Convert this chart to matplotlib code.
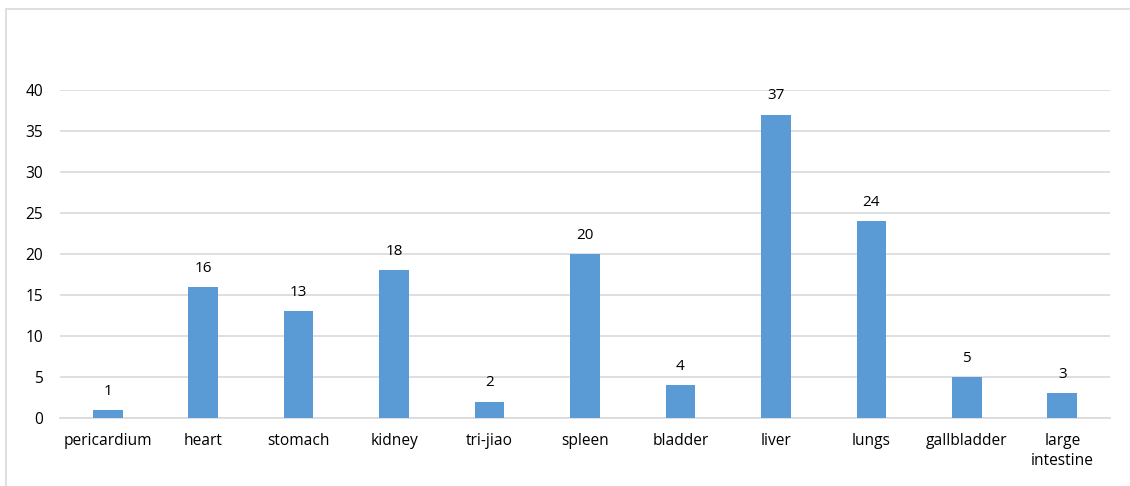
import matplotlib
matplotlib.use("Agg")
import matplotlib.pyplot as plt
from matplotlib.patches import Rectangle

categories = ["pericardium", "heart", "stomach", "kidney", "tri-jiao", "spleen",
              "bladder", "liver", "lungs", "gallbladder", "large\nintestine"]
counts = [1, 16, 13, 18, 2, 20, 4, 37, 24, 5, 3]
y_ticks = [0, 5, 10, 15, 20, 25, 30, 35, 40]

plt.rcParams["font.family"] = ["Open Sans", "DejaVu Sans"]

W, H = 1130, 486
fig = plt.figure(figsize=(W / 100, H / 100), dpi=100)

# outer chart frame
fig.patches.append(Rectangle((6 / W, -0.1), 1.2, (H - 9) / H + 0.1,
                             transform=fig.transFigure, fill=False,
                             edgecolor="#d9d9d9", linewidth=1.2))

ax = fig.add_axes([60 / W, 68 / H, 1050 / W, 328 / H])
x = range(len(categories))
bars = ax.bar(x, counts, width=0.31, color="#5b9bd5", zorder=3)

for xi, v in zip(x, counts):
    ax.annotate(str(v), (xi, v), xytext=(0, 8), textcoords="offset points",
                ha="center", va="bottom", fontsize=11, color="#000000")

ax.set_xlim(-0.5, len(categories) - 0.5)
ax.set_ylim(0, 40)
ax.set_yticks(y_ticks)
ax.set_xticks(list(x))
ax.set_xticklabels(categories, fontsize=11.2, color="#000000", linespacing=1.3)
ax.tick_params(axis="y", labelsize=11.2, colors="#000000", length=0, pad=12)
ax.tick_params(axis="x", length=0, pad=11)
ax.yaxis.grid(True, color="#d9d9d9", linewidth=1.2, zorder=0)
for side in ("top", "right", "left"):
    ax.spines[side].set_visible(False)
ax.spines["bottom"].set_color("#d9d9d9")
ax.spines["bottom"].set_linewidth(1.2)

fig.savefig("out.png", dpi=100)
